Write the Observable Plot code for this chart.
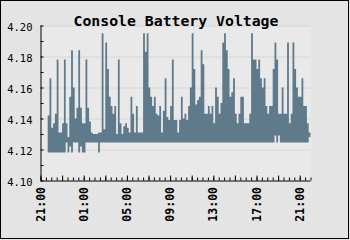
<!DOCTYPE html>
<html><head><meta charset="utf-8">
<script src="https://cdn.jsdelivr.net/npm/d3@7"></script>
<script src="https://cdn.jsdelivr.net/npm/@observablehq/plot@0.6"></script>
<style>body{margin:0;background:#fff}</style>
</head><body><div id="chart"></div>
<script>
const title = "Console Battery Voltage";
const startBin = 4;          // first 10-minute bin with data (after 21:00)
const binMinutes = 10;
const hi = [
 4.142,4.166,4.134,4.137,4.143,4.178,4.131,4.131,4.137,4.178,
 4.137,4.128,4.154,4.184,4.160,4.140,4.147,4.184,4.147,4.137,
 4.137,4.178,4.147,4.138,4.131,4.130,4.130,4.130,4.131,4.131,
 4.195,4.133,4.189,4.172,4.154,4.148,4.143,4.148,4.130,4.178,
 4.137,4.130,4.135,4.137,4.134,4.131,4.154,4.143,4.131,4.148,
 4.131,4.131,4.131,4.195,4.183,4.195,4.160,4.154,4.148,4.154,
 4.143,4.142,4.148,4.131,4.145,4.166,4.141,4.139,4.148,4.178,
 4.139,4.139,4.131,4.139,4.154,4.140,4.143,4.139,4.148,4.160,
 4.195,4.172,4.149,4.152,4.154,4.184,4.175,4.143,4.143,4.148,
 4.143,4.148,4.137,4.160,4.154,4.143,4.150,4.189,4.195,4.184,
 4.172,4.154,4.157,4.166,4.143,4.137,4.143,4.154,4.154,4.137,
 4.137,4.137,4.143,4.195,4.178,4.178,4.172,4.178,4.166,4.160,
 4.166,4.148,4.143,4.148,4.148,4.172,4.189,4.178,4.143,4.143,
 4.160,4.143,4.143,4.189,4.137,4.143,4.189,4.172,4.160,4.154,
 4.154,4.166,4.148,4.148,4.137,4.131
];
const lo = [
 4.118,4.118,4.118,4.118,4.118,4.118,4.118,4.118,4.118,4.118,
 4.1245,4.118,4.122,4.118,4.1245,4.1245,4.1245,4.118,4.122,4.118,
 4.118,4.1245,4.1245,4.1245,4.1245,4.1245,4.1245,4.1245,4.118,4.1245,
 4.1245,4.1245,4.1245,4.1245,4.1245,4.1245,4.1245,4.1245,4.1245,4.1245,
 4.1245,4.1245,4.1245,4.1245,4.1245,4.1245,4.1245,4.1245,4.1245,4.1245,
 4.1245,4.1245,4.1245,4.1245,4.1245,4.1245,4.1245,4.1245,4.1245,4.1245,
 4.1245,4.1245,4.1245,4.1245,4.1245,4.1245,4.1245,4.1245,4.1245,4.1245,
 4.1245,4.1245,4.1245,4.1245,4.1245,4.1245,4.1245,4.1245,4.1245,4.1245,
 4.1245,4.1245,4.1245,4.1245,4.1245,4.1245,4.1245,4.1245,4.1245,4.1245,
 4.1245,4.1245,4.1245,4.1245,4.1245,4.1245,4.1245,4.1245,4.1245,4.1245,
 4.1245,4.1245,4.1245,4.1245,4.1245,4.1245,4.1245,4.1245,4.1245,4.1245,
 4.1245,4.1245,4.1245,4.1245,4.1245,4.1245,4.1245,4.1245,4.1245,4.1245,
 4.1245,4.1245,4.1245,4.1245,4.1245,4.1245,4.129,4.1245,4.129,4.1245,
 4.1245,4.1245,4.1245,4.1245,4.1245,4.1245,4.1245,4.1245,4.1245,4.1245,
 4.1245,4.1245,4.1245,4.1245,4.1245,4.128
];
const yLabels = [4.10, 4.12, 4.14, 4.16, 4.18, 4.20];
const yMinor = [4.11, 4.13, 4.15, 4.17, 4.19];
const xLabelHours = [0, 4, 8, 12, 16, 20, 24];   // hours after 21:00
const spanHours = 25;

const hour = 3600000;
const t0 = Date.UTC(2024, 0, 1, 21, 0);
const rows = hi.map((h, k) => ({t: new Date(t0 + (startBin + k) * binMinutes * 60000), hi: h, lo: lo[k]}));
rows.push({t: new Date(t0 + (startBin + hi.length) * binMinutes * 60000), hi: hi[hi.length - 1], lo: lo[lo.length - 1]});

const halfHourTicks = d3.range(0, spanHours * 2 + 1).map(k => new Date(t0 + k * hour / 2));
const twoHourTicks = d3.range(0, spanHours + 1, 2).map(k => new Date(t0 + k * hour));
const labelTicks = xLabelHours.map(h => new Date(t0 + h * hour));

const mono = "DejaVu Sans Mono";
const fill = "#5f7a8b";

const chart = Plot.plot({
  width: 350, height: 240,
  marginLeft: 40.5, marginRight: 39.5, marginTop: 25.5, marginBottom: 59.5,
  style: {background: "#e4e4e4", fontFamily: mono, color: "#000"},
  x: {type: "utc", domain: [new Date(t0), new Date(t0 + spanHours * hour)]},
  y: {domain: [4.10, 4.20]},
  marks: [
    Plot.frame({fill: "#e9e9e9", stroke: "none"}),
    Plot.gridY(yLabels.slice(1), {stroke: "#d6d6d6", strokeOpacity: 1}),
    Plot.areaY(rows, {x: "t", y1: "lo", y2: "hi", curve: "step-after", fill}),
    Plot.ruleY([4.10], {stroke: "#000"}),
    Plot.ruleX([new Date(t0)], {stroke: "#000"}),
    Plot.axisY(yLabels.concat(yMinor), {tickSize: 3, dx: 3, tickFormat: () => "", label: null, stroke: "#000"}),
    Plot.axisY(yLabels, {tickSize: 0, tickPadding: 8.5, dy: 2, tickFormat: d => d.toFixed(2), label: null, fontSize: 10.5, fontFamily: mono}),
    Plot.axisX(halfHourTicks, {tickSize: 3, dy: -3, tickFormat: () => "", label: null, stroke: "#000"}),
    Plot.axisX(twoHourTicks, {tickSize: 5, dy: -5, tickFormat: () => "", label: null, stroke: "#000"}),
    Plot.axisX(labelTicks, {tickSize: 0, tickPadding: 6, tickRotate: -90, tickFormat: d3.utcFormat("%H:%M"), label: null, fontSize: 11.5, fontWeight: "bold", fontFamily: mono}),
    Plot.text([title], {frameAnchor: "top", dy: -10.5, text: d => d, fontSize: 14.8, fontWeight: "bold", fontFamily: mono, fill: "#000"})
  ]
});
d3.select(chart).append("rect")
  .attr("x", 0.5).attr("y", 0.5).attr("width", 348).attr("height", 238)
  .attr("fill", "none").attr("stroke", "#000");
document.getElementById("chart").appendChild(chart);
</script></body></html>
